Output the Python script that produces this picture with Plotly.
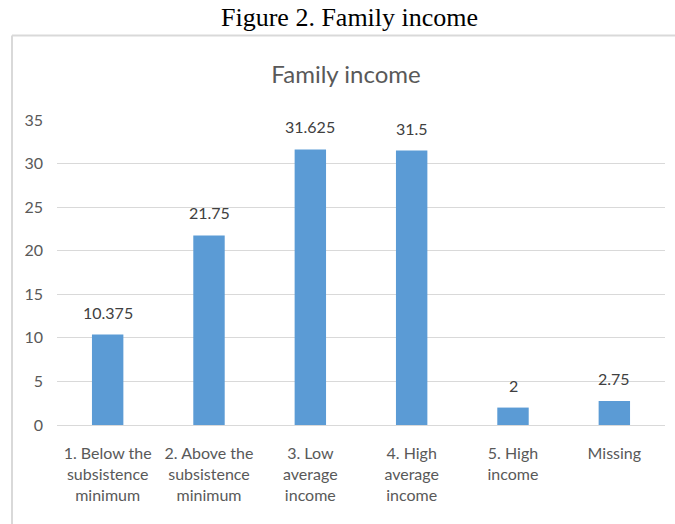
import plotly.graph_objects as go

categories = ["1. Below the subsistence minimum", "2. Above the subsistence minimum",
              "3. Low average income", "4. High average income", "5. High income", "Missing"]
tick_labels = ["1. Below the<br>subsistence<br>minimum", "2. Above the<br>subsistence<br>minimum",
               "3. Low<br>average<br>income", "4. High<br>average<br>income", "5. High<br>income", "Missing"]
values = [10.375, 21.75, 31.625, 31.5, 2, 2.75]
value_labels = ["10.375", "21.75", "31.625", "31.5", "2", "2.75"]
y_ticks = [0, 5, 10, 15, 20, 25, 30, 35]

FONT = "Lato, Roboto, sans-serif"
GRAY = "#595959"

fig = go.Figure()
fig.add_trace(go.Bar(x=categories, y=values, marker=dict(color="#5B9BD5", line=dict(width=0)),
                     hoverinfo="x+y"))

for c, v, t in zip(categories, values, value_labels):
    fig.add_annotation(x=c, y=v, text=t, showarrow=False, yanchor="bottom", yshift=11,
                       font=dict(family=FONT, size=16, color="#404040"))

# outer figure caption
fig.add_annotation(xref="paper", yref="paper", x=(349 - 57) / 608, y=(425 - 18) / 305,
                   text="Figure 2. Family income",
                   showarrow=False, xanchor="center", yanchor="middle",
                   font=dict(family="Liberation Serif, Times New Roman, serif", size=26, color="#000000"))

# chart border (top and left)
fig.add_shape(type="line", xref="paper", yref="paper", x0=(12 - 57) / 608, x1=(675 - 57) / 608,
              y0=(425 - 35.5) / 305, y1=(425 - 35.5) / 305, line=dict(color="#D9D9D9", width=2))
fig.add_shape(type="line", xref="paper", yref="paper", x0=(12 - 57) / 608, x1=(12 - 57) / 608,
              y0=(425 - 35.5) / 305, y1=(425 - 530) / 305, line=dict(color="#D9D9D9", width=2))

fig.update_layout(
    width=675, height=524,
    margin=dict(l=57, r=10, t=120, b=99),
    paper_bgcolor="white", plot_bgcolor="white",
    bargap=0.69,
    showlegend=False,
    title=dict(text="Family income", x=(346 - 57) / 608, xref="paper", xanchor="center",
               y=1 - 75 / 524, yanchor="middle",
               font=dict(family=FONT, size=24, color=GRAY)),
    xaxis=dict(tickmode="array", tickvals=categories, ticktext=tick_labels,
               tickfont=dict(family=FONT, size=16, color=GRAY), showgrid=False,
               showline=True, linecolor="#D9D9D9", linewidth=1, ticks="", ticklabelstandoff=14),
    yaxis=dict(range=[0, 35], tickvals=y_ticks, showgrid=True, gridcolor="#D9D9D9", gridwidth=1,
               zeroline=False, showline=False, ticks="", ticklabelstandoff=13,
               tickfont=dict(family=FONT, size=16, color=GRAY)),
)

fig.write_html("out.html")
